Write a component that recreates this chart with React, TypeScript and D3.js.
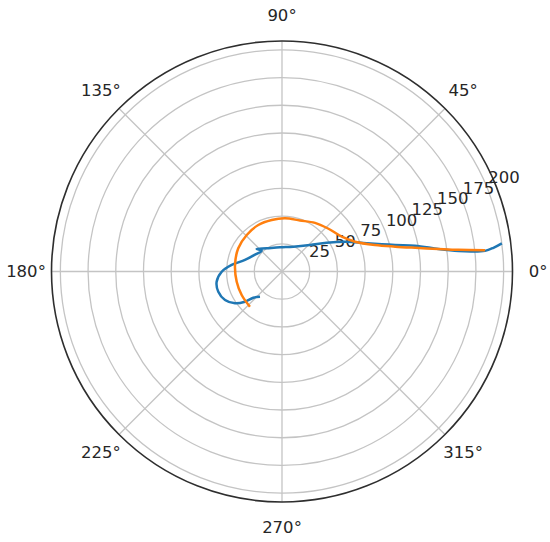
import React from "react";
import * as d3 from "d3";

// polar trajectory, theta in degrees (counter-clockwise from east), r in data units
const blueTheta = [228.9, 222.4, 219.2, 214.1, 206.6, 197.6, 188.9, 180.2, 172.6, 162.7, 148.1, 134.4, 138.4, 123.4, 94.7, 65.5, 43.4, 32.8, 24.7, 18.4, 13.2, 11.0, 8.2, 6.6, 6.0, 5.8, 6.4, 7.3];
const blueR = [30.2, 35.1, 43.1, 51.2, 57.5, 60.3, 59.7, 54.4, 45.8, 35.0, 28.7, 26.2, 30.6, 25.1, 21.9, 24.6, 34.8, 48.0, 64.3, 80.6, 104.8, 122.3, 142.6, 160.3, 172.2, 184.2, 192.0, 200.0];

const orangeTheta = [227.7, 210.2, 192.7, 172.1, 152.0, 134.0, 117.0, 101.3, 86.8, 70.6, 55.8, 42.6, 30.2, 22.2, 15.9, 12.4, 10.1, 8.2, 7.0, 6.0];
const orangeR = [43.0, 42.1, 41.9, 42.8, 44.7, 45.8, 47.1, 47.4, 48.1, 48.8, 53.0, 57.0, 62.4, 71.2, 87.3, 104.5, 122.0, 142.6, 160.4, 184.3];

const radialTicks = [25, 50, 75, 100, 125, 150, 175, 200];
const angleTicks = [0, 45, 90, 135, 180, 225, 270, 315];

const width = 550;
const height = 542;
const cx = 282;
const cy = 271.5;
const outerR = 230.5;
const rMax = 208;
const labelAngle = 22.5;

const toRad = (deg: number) => (deg * Math.PI) / 180;

export default function App() {
  const rScale = d3.scaleLinear().domain([0, rMax]).range([0, outerR]);

  const px = (theta: number, r: number) => rScale(r) * Math.cos(toRad(theta));
  const py = (theta: number, r: number) => -rScale(r) * Math.sin(toRad(theta));

  // d3 radial angle goes clockwise from 12 o'clock
  const line = d3
    .lineRadial<[number, number]>()
    .angle((d) => Math.PI / 2 - toRad(d[0]))
    .radius((d) => rScale(d[1]))
    .curve(d3.curveCatmullRom.alpha(0.5));

  const blue = blueTheta.map((t, i) => [t, blueR[i]] as [number, number]);
  const orange = orangeTheta.map((t, i) => [t, orangeR[i]] as [number, number]);

  const font = "'DejaVu Sans', sans-serif";

  return (
    <svg
      width={width}
      height={height}
      style={{ position: "absolute", left: 0, top: 0, background: "#fff" }}
    >
      <g transform={`translate(${cx},${cy})`}>
        {/* grid */}
        {radialTicks.map((t) => (
          <circle key={t} r={rScale(t)} fill="none" stroke="#c4c4c4" strokeWidth={1.3} />
        ))}
        {angleTicks.map((a) => (
          <line
            key={a}
            x1={0}
            y1={0}
            x2={outerR * Math.cos(toRad(a))}
            y2={-outerR * Math.sin(toRad(a))}
            stroke="#c4c4c4"
            strokeWidth={1.3}
          />
        ))}
        <circle r={outerR} fill="none" stroke="#2e2e2e" strokeWidth={1.6} />

        {/* radial tick labels */}
        {radialTicks.map((t) => (
          <text
            key={t}
            x={px(labelAngle, t) + 1.5}
            y={py(labelAngle, t) - 3.5}
            fontFamily={font}
            fontSize={16.5}
            fill="#262626"
          >
            {t}
          </text>
        ))}

        {/* angle labels */}
        {angleTicks.map((a) => (
          <text
            key={a}
            x={256 * Math.cos(toRad(a))}
            y={-256 * Math.sin(toRad(a))}
            textAnchor="middle"
            dominantBaseline="central"
            fontFamily={font}
            fontSize={16.5}
            fill="#262626"
          >
            {a}°
          </text>
        ))}

        {/* series */}
        <path d={line(blue) ?? ""} fill="none" stroke="#1f77b4" strokeWidth={2.5} strokeLinejoin="round" />
        <path d={line(orange) ?? ""} fill="none" stroke="#ff7f0e" strokeWidth={2.5} strokeLinejoin="round" />
      </g>
    </svg>
  );
}
